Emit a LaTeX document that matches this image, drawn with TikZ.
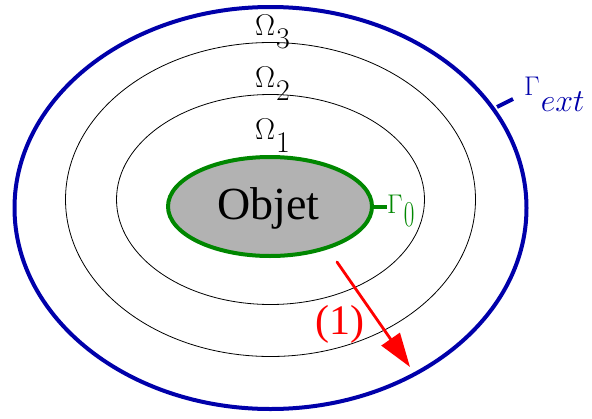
\RequirePackage{fix-cm}
\documentclass[tikz,border=0pt]{standalone}
\usepackage{fontspec}
\newfontfamily\figfont{Liberation Serif}
\usetikzlibrary{shapes.geometric,arrows.meta}

\definecolor{bordext}{RGB}{0,0,170}
\definecolor{bordobj}{RGB}{0,135,0}
\definecolor{objgris}{RGB}{178,178,178}

% indice pleine taille, abaisse de #3
\newcommand\lbsub[3]{#1\kern1pt\raisebox{-#3}{#2}}

\tikzset{
  couche/.style={line width=0.8pt, black},
  domlabel/.style={inner sep=0pt, anchor=base west, font=\fontsize{30}{36}\selectfont},
}

\begin{document}
\begin{tikzpicture}[x=1pt, y=-1pt, line cap=round, line join=round]

  %% ==== couches (ellipses noires) ====
  \draw[couche] (270.5,199.5) ellipse [x radius=205, y radius=157];
  \draw[couche] (270.5,199.5) ellipse [x radius=154, y radius=105];

  %% ==== frontiere exterieure ====
  \draw[bordext, line width=4pt] (270.5,208) ellipse [x radius=256, y radius=201];

  %% ==== objet ====
  \node[ellipse, draw=bordobj, fill=objgris, line width=4pt, inner sep=0pt,
        minimum width=204, minimum height=99] (obj) at (270,206.5) {};
  \node[inner sep=0pt, font=\figfont\fontsize{46}{52}\selectfont] (objtxt) at (268.5,208) {Objet};

  %% ==== labels des couches ====
  \node[domlabel] (om3) at (255,35) {\lbsub{$\Omega$}{$3$}{13pt}};
  \node[domlabel] (om2) at (255,87) {\lbsub{$\Omega$}{$2$}{13pt}};
  \node[domlabel] (om1) at (255,139) {\lbsub{$\Omega$}{$1$}{13pt}};

  %% ==== Gamma_ext ====
  \coordinate (gext0) at (497,107);
  \coordinate (gext1) at (513,99);
  \node[anchor=base west, inner sep=0pt, text=bordext, font=\fontsize{27}{32}\selectfont]
        (gext) at (524,95) {\lbsub{$\Gamma$}{\fontsize{32}{38}\selectfont$ext$}{16pt}};
  \draw[bordext, line width=4pt, line cap=butt] (gext0) -- (gext1);

  %% ==== Gamma_0 ====
  \node[anchor=base west, inner sep=0pt, text=bordobj, font=\fontsize{27}{32}\selectfont]
        (g0) at (387,213) {\lbsub{$\Gamma$}{\scalebox{0.85}[1.35]{$0$}}{13pt}};
  \draw[bordobj, line width=4pt, line cap=butt] (obj.east) -- (g0.west |- obj.east);

  %% ==== fleche (1) ====
  \coordinate (fa) at (337,262);
  \coordinate (fb) at (410,367);
  \draw[red, line width=2.8pt, -{Triangle[length=34pt, width=22pt]}] (fa) -- (fb);
  \node[red, inner sep=0pt, font=\figfont\fontsize{42}{48}\selectfont] (un) at (340,324) {(1)};

  \pgfresetboundingbox
  \path[use as bounding box] (0,0) rectangle (592,418);
\end{tikzpicture}
\end{document}
